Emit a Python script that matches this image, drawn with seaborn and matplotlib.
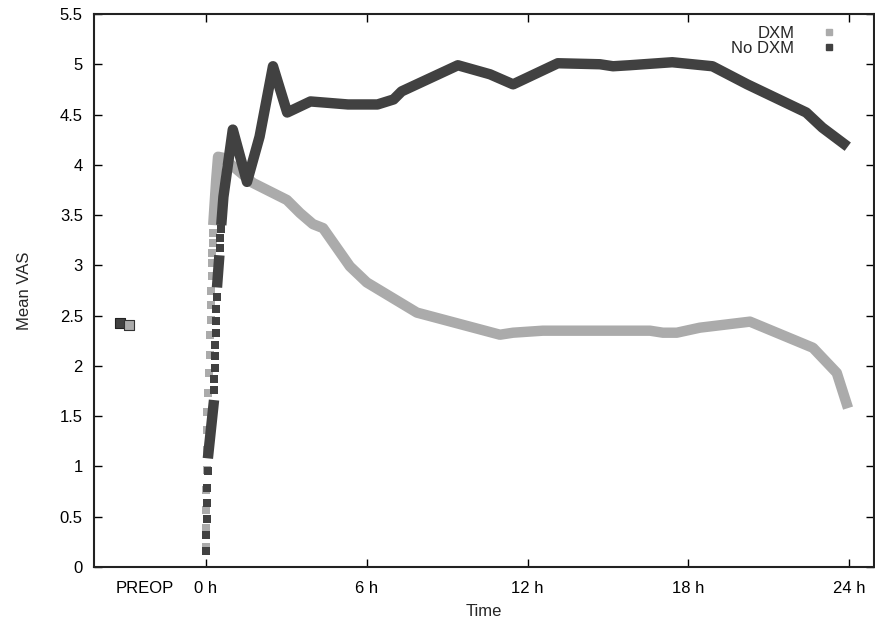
import matplotlib
matplotlib.use("Agg")
import matplotlib.pyplot as plt
from matplotlib.lines import Line2D
import seaborn as sns
import numpy as np
import pandas as pd

# time in hours after surgery, values = mean VAS
preop_t = {"No DXM": -3.21, "DXM": -2.87}
preop_v = {"No DXM": 2.43, "DXM": 2.41}

# early measurements drawn as single squares
dxm_sq_t = [0.0, 0.0, 0.01, 0.01, 0.02, 0.02, 0.03, 0.05, 0.07, 0.10,
            0.14, 0.16, 0.17, 0.18, 0.20, 0.21, 0.22, 0.24, 0.25, 0.26]
dxm_sq_v = [0.20, 0.39, 0.57, 0.77, 0.96, 1.16, 1.36, 1.54, 1.73, 1.93,
            2.11, 2.31, 2.46, 2.61, 2.74, 2.89, 3.02, 3.12, 3.22, 3.32]

nodxm_sq_t = [0.0, 0.0, 0.02, 0.02, 0.04, 0.06,
              0.30, 0.31, 0.33, 0.34, 0.35, 0.37, 0.38, 0.39, 0.41,
              0.52, 0.54, 0.56]
nodxm_sq_v = [0.16, 0.32, 0.48, 0.64, 0.79, 0.95,
              1.76, 1.87, 1.98, 2.10, 2.21, 2.33, 2.45, 2.57, 2.69,
              3.17, 3.27, 3.36]

# continuous parts
dxm_t = [0.27, 0.38, 0.45, 0.63, 1.75, 3.02, 3.51, 3.99, 4.37, 5.37, 6.0, 7.87,
         10.97, 11.46, 12.57, 16.57, 17.05, 17.57, 18.43, 20.3, 22.65, 23.54, 23.96]
dxm_v = [3.40, 3.85, 4.08, 4.07, 3.82, 3.65, 3.52, 3.41, 3.37, 2.99, 2.83, 2.53,
         2.31, 2.33, 2.35, 2.35, 2.33, 2.33, 2.38, 2.44, 2.18, 1.93, 1.58]

nodxm_t = [0.07, 0.30,
           0.41, 0.50,
           0.57, 0.65, 1.0, 1.53, 2.0, 2.5, 3.03, 3.9, 5.3, 6.4, 7.0, 7.3,
           9.4, 10.6, 11.46, 13.13, 14.7, 15.19, 15.8, 17.4, 18.9, 20.2,
           22.4, 23.0, 23.95]
nodxm_v = [1.08, 1.66,
           2.78, 3.10,
           3.40, 3.68, 4.35, 3.83, 4.28, 4.98, 4.52, 4.63, 4.60, 4.60, 4.65, 4.73,
           4.99, 4.90, 4.80, 5.01, 5.00, 4.98, 4.99, 5.02, 4.98, 4.80,
           4.52, 4.37, 4.18]
nodxm_seg = [0, 0, 1, 1] + [2] * 25

tick_pos = [-2.3, 0, 6, 12, 18, 24]
tick_lab = ["PREOP", "0 h", "6 h", "12 h", "18 h", "24 h"]

light = "#ababab"
dark = "#414141"

sns.set_style("ticks")
plt.rcParams["font.family"] = ["Liberation Sans", "DejaVu Sans"]

fig = plt.figure(figsize=(8.75, 6.21), dpi=100)
ax = fig.add_axes([0.1074, 0.087, 0.8915, 0.8905])

df_dxm = pd.DataFrame({"t": dxm_t, "v": dxm_v, "seg": 0})
df_no = pd.DataFrame({"t": nodxm_t, "v": nodxm_v, "seg": nodxm_seg})

sns.scatterplot(x=dxm_sq_t, y=dxm_sq_v, marker="s", s=28, color=light,
                linewidth=0, ax=ax, zorder=2)
sns.lineplot(data=df_dxm, x="t", y="v", units="seg", estimator=None, sort=False,
             color=light, lw=7.5, ax=ax, zorder=2, solid_capstyle="butt")
sns.scatterplot(x=nodxm_sq_t, y=nodxm_sq_v, marker="s", s=28, color=dark,
                linewidth=0, ax=ax, zorder=3)
sns.lineplot(data=df_no, x="t", y="v", units="seg", estimator=None, sort=False,
             color=dark, lw=7.5, ax=ax, zorder=3, solid_capstyle="butt")

# preop values
ax.scatter([preop_t["No DXM"]], [preop_v["No DXM"]], marker="s", s=55,
           color=dark, edgecolor="#222222", linewidth=0.8, zorder=4)
ax.scatter([preop_t["DXM"]], [preop_v["DXM"]], marker="s", s=55,
           color=light, edgecolor="#333333", linewidth=0.8, zorder=5)

ax.set_xlim(-4.18, 24.93)
ax.set_ylim(0, 5.5)
ax.set_yticks(np.arange(0, 5.51, 0.5))
ax.set_yticklabels(["0", "0.5", "1", "1.5", "2", "2.5", "3", "3.5", "4", "4.5", "5", "5.5"])
ax.set_xticks(tick_pos)
ax.set_xticklabels(tick_lab)
ax.tick_params(direction="in", length=6, width=1, top=True, right=True,
               labelsize=12, colors="black")
ax.tick_params(axis="x", pad=10)
ax.tick_params(axis="y", pad=8)
preop_tick = ax.xaxis.get_major_ticks()[0]
preop_tick.tick1line.set_visible(False)
preop_tick.tick2line.set_visible(False)

for sp in ax.spines.values():
    sp.set_visible(True)
    sp.set_linewidth(1.5)
    sp.set_color("#222222")

ax.set_xlabel("Time", fontsize=12, labelpad=6)
ax.set_ylabel("Mean VAS", fontsize=12, labelpad=20)

handles = [Line2D([], [], marker="s", linestyle="none", color=light, markersize=5, label="DXM"),
           Line2D([], [], marker="s", linestyle="none", color=dark, markersize=5, label="No DXM")]
ax.legend(handles=handles, loc="upper right", frameon=False, markerfirst=False,
          fontsize=12, handletextpad=1.1, labelspacing=0.0,
          bbox_to_anchor=(0.979, 1.0), borderaxespad=0.3)

fig.savefig("out.png", dpi=100)
